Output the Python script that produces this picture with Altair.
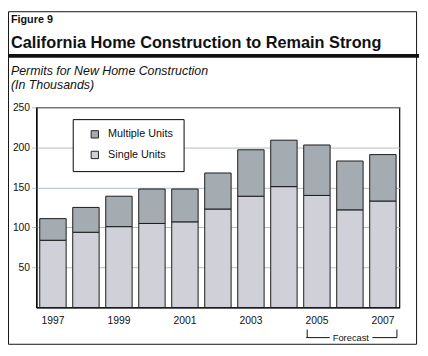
import altair as alt
import pandas as pd

years = ["1997", "1998", "1999", "2000", "2001", "2002", "2003", "2004", "2005", "2006", "2007"]
single_units = [84, 94, 101, 105, 107, 123, 139, 151, 140, 122, 133]
multiple_units = [27, 31, 38, 43, 41, 45, 58, 58, 63, 61, 58]
series_names = ["Multiple Units", "Single Units"]
series_colors = ["#a5acb1", "#cfd0d8"]
x_tick_labels = ["1997", "1999", "2001", "2003", "2005", "2007"]
y_tick_values = [50, 100, 150, 200, 250]

rows = []
for y, s, m in zip(years, single_units, multiple_units):
    rows.append({"year": y, "series": "Single Units", "value": s, "order": 0})
    rows.append({"year": y, "series": "Multiple Units", "value": m, "order": 1})
df = pd.DataFrame(rows)

FONT = "Liberation Sans"

bars = alt.Chart(df).mark_bar(stroke="#1a1a1a", strokeWidth=1).encode(
    x=alt.X("year:N", sort=years,
            scale=alt.Scale(paddingInner=0.2, paddingOuter=0.1),
            axis=alt.Axis(values=x_tick_labels, labelAngle=0, ticks=False, title=None,
                          labelFontSize=10.5, labelPadding=8, labelFont=FONT, labelColor="#111",
                          domainColor="#000", domainWidth=1.2)),
    y=alt.Y("value:Q", stack="zero",
            scale=alt.Scale(domain=[0, 250], nice=False),
            axis=alt.Axis(values=y_tick_values, title=None, labelFontSize=10.5, labelFont=FONT,
                          labelColor="#111", tickSize=5, tickColor="#b4bcc4", labelPadding=2,
                          gridColor="#b4bcc4", gridWidth=1, domainColor="#000", domainWidth=1.2)),
    color=alt.Color("series:N", sort=series_names,
                    scale=alt.Scale(domain=series_names, range=series_colors),
                    legend=alt.Legend(title=None, orient="none", legendX=37, legendY=12,
                                      fillColor="white", strokeColor="#000", padding=10,
                                      symbolType="square", symbolSize=56, symbolStrokeColor="#222",
                                      symbolStrokeWidth=1, symbolOffset=7,
                                      labelFontSize=11, labelFont=FONT, labelColor="#111",
                                      rowPadding=8, labelOffset=8)),
    order=alt.Order("order:Q"),
)

def txt(s, x, y, size, weight="normal", style="normal", align="left", baseline="alphabetic"):
    return alt.Chart(pd.DataFrame({"t": [s]})).mark_text(
        font=FONT, fontSize=size, fontWeight=weight, fontStyle=style, align=align,
        baseline=baseline, color="#111"
    ).encode(text="t:N", x=alt.value(x), y=alt.value(y))

fig_label = txt("Figure 9", -26, -86.5, 11, weight="bold")
title = txt("California Home Construction to Remain Strong", -26, -61, 16.6, weight="bold")
sub1 = txt("Permits for New Home Construction", -26, -33, 12.6, style="italic")
sub2 = txt("(In Thousands)", -26, -19, 12.6, style="italic")
forecast = txt("Forecast", 320.5, 235, 9.5, align="center", baseline="middle")

thick = alt.Chart(pd.DataFrame({"a": [0]})).mark_rule(color="#111", strokeWidth=4).encode(
    x=alt.value(-30), x2=alt.value(390), y=alt.value(-52.5))

frame = alt.Chart(pd.DataFrame({"a": [0]})).mark_rect(fill=None, stroke="#111", strokeWidth=1).encode(
    x=alt.value(-28.5), x2=alt.value(387.5), y=alt.value(-97.5), y2=alt.value(241.5))

br_df = pd.DataFrame({"x": [275, 276, 342.5, 367.5], "x2": [299, 276, 367.5, 367.5],
                      "y": [234.7, 226.5, 234.7, 226.5], "y2": [234.7, 234.7, 234.7, 234.7]})
bracket = alt.Chart(br_df).mark_rule(color="#111", strokeWidth=1).encode(
    x=alt.X("x:Q", scale=None), x2="x2:Q", y=alt.Y("y:Q", scale=None), y2="y2:Q")

chart = alt.layer(bars, thick, frame, bracket, fig_label, title, sub1, sub2, forecast).properties(
    width=370, height=204,
    autosize=alt.AutoSizeParams(type="none"),
    padding={"left": 29, "top": 98, "right": 21, "bottom": 38},
    background="white",
).configure_view(stroke="#000", strokeWidth=1.2)

chart.save("out.html", embed_options={"renderer": "svg", "actions": False})
